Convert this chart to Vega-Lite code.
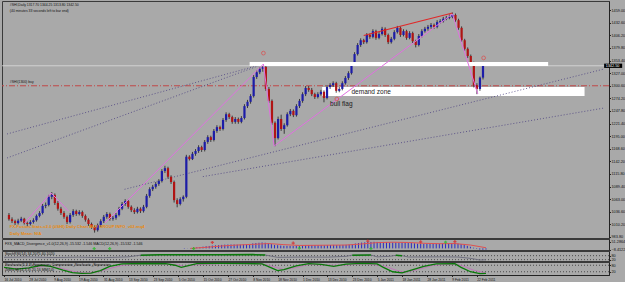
{
"$schema":"https://vega.github.io/schema/vega-lite/v6.json",
"padding":0,
"spacing":1,
"bounds":"flush",
"background":"#a9a9a9",
"config":{"view":{"stroke":"#3a3a3a","strokeWidth":1},"axis":{"labelFont":"Liberation Sans","labelFontSize":3.8,"labelColor":"#111111","tickColor":"#222222","domainColor":"#222222","tickSize":1.5,"labelPadding":0.5,"grid":false},"text":{"font":"Liberation Sans"}},
"datasets":{
"candles":[
{"i":0,"o":1030,"h":1034,"l":1018,"c":1021},{"i":1,"o":1021,"h":1025,"l":1013,"c":1017},{"i":2,"o":1017,"h":1020,"l":1009,"c":1013},{"i":3,"o":1013,"h":1022,"l":1010,"c":1018},{"i":4,"o":1018,"h":1026,"l":1015,"c":1022},{"i":5,"o":1022,"h":1024,"l":1010,"c":1013},{"i":6,"o":1013,"h":1016,"l":1006,"c":1011},{"i":7,"o":1011,"h":1019,"l":1008,"c":1015},{"i":8,"o":1015,"h":1023,"l":1012,"c":1019},{"i":9,"o":1019,"h":1031,"l":1016,"c":1028},
{"i":10,"o":1028,"h":1038,"l":1025,"c":1034},{"i":11,"o":1034,"h":1053,"l":1031,"c":1049},{"i":12,"o":1049,"h":1056,"l":1044,"c":1051},{"i":13,"o":1051,"h":1072,"l":1048,"c":1068},{"i":14,"o":1068,"h":1078,"l":1063,"c":1072},{"i":15,"o":1072,"h":1075,"l":1051,"c":1055},{"i":16,"o":1055,"h":1059,"l":1039,"c":1043},{"i":17,"o":1043,"h":1047,"l":1030,"c":1034},{"i":18,"o":1034,"h":1038,"l":1022,"c":1026},{"i":19,"o":1026,"h":1029,"l":1011,"c":1015},
{"i":20,"o":1015,"h":1034,"l":1012,"c":1030},{"i":21,"o":1030,"h":1042,"l":1026,"c":1038},{"i":22,"o":1038,"h":1041,"l":1028,"c":1032},{"i":23,"o":1032,"h":1040,"l":1029,"c":1036},{"i":24,"o":1036,"h":1039,"l":1024,"c":1028},{"i":25,"o":1028,"h":1031,"l":1016,"c":1020},{"i":26,"o":1020,"h":1023,"l":1007,"c":1011},{"i":27,"o":1011,"h":1014,"l":1001,"c":1005},{"i":28,"o":1005,"h":1008,"l":993,"c":998},{"i":29,"o":998,"h":1012,"l":995,"c":1009},
{"i":30,"o":1009,"h":1021,"l":1005,"c":1017},{"i":31,"o":1017,"h":1030,"l":1013,"c":1026},{"i":32,"o":1026,"h":1036,"l":1022,"c":1032},{"i":33,"o":1032,"h":1035,"l":1018,"c":1022},{"i":34,"o":1022,"h":1028,"l":1018,"c":1024},{"i":35,"o":1024,"h":1034,"l":1020,"c":1030},{"i":36,"o":1030,"h":1047,"l":1027,"c":1043},{"i":37,"o":1043,"h":1057,"l":1040,"c":1053},{"i":38,"o":1053,"h":1063,"l":1049,"c":1059},{"i":39,"o":1059,"h":1062,"l":1043,"c":1047},
{"i":40,"o":1047,"h":1050,"l":1036,"c":1040},{"i":41,"o":1040,"h":1044,"l":1032,"c":1036},{"i":42,"o":1036,"h":1047,"l":1033,"c":1043},{"i":43,"o":1043,"h":1046,"l":1034,"c":1038},{"i":44,"o":1038,"h":1051,"l":1035,"c":1047},{"i":45,"o":1047,"h":1074,"l":1044,"c":1070},{"i":46,"o":1070,"h":1088,"l":1066,"c":1084},{"i":47,"o":1084,"h":1093,"l":1080,"c":1089},{"i":48,"o":1089,"h":1099,"l":1085,"c":1095},{"i":49,"o":1095,"h":1105,"l":1091,"c":1101},
{"i":50,"o":1101,"h":1126,"l":1098,"c":1122},{"i":51,"o":1122,"h":1133,"l":1118,"c":1128},{"i":52,"o":1128,"h":1131,"l":1106,"c":1110},{"i":53,"o":1110,"h":1113,"l":1095,"c":1099},{"i":54,"o":1099,"h":1102,"l":1056,"c":1061},{"i":55,"o":1061,"h":1065,"l":1046,"c":1053},{"i":56,"o":1053,"h":1067,"l":1050,"c":1063},{"i":57,"o":1063,"h":1071,"l":1058,"c":1068},{"i":58,"o":1068,"h":1156,"l":1065,"c":1152},{"i":59,"o":1152,"h":1155,"l":1144,"c":1147},
{"i":60,"o":1147,"h":1162,"l":1145,"c":1158},{"i":61,"o":1158,"h":1168,"l":1154,"c":1164},{"i":62,"o":1164,"h":1176,"l":1160,"c":1172},{"i":63,"o":1172,"h":1175,"l":1162,"c":1166},{"i":64,"o":1166,"h":1187,"l":1163,"c":1183},{"i":65,"o":1183,"h":1197,"l":1179,"c":1193},{"i":66,"o":1193,"h":1196,"l":1183,"c":1187},{"i":67,"o":1187,"h":1210,"l":1184,"c":1206},{"i":68,"o":1206,"h":1218,"l":1202,"c":1214},{"i":69,"o":1214,"h":1217,"l":1206,"c":1210},
{"i":70,"o":1210,"h":1233,"l":1207,"c":1229},{"i":71,"o":1229,"h":1245,"l":1225,"c":1241},{"i":72,"o":1241,"h":1244,"l":1231,"c":1235},{"i":73,"o":1235,"h":1238,"l":1221,"c":1225},{"i":74,"o":1225,"h":1235,"l":1221,"c":1231},{"i":75,"o":1231,"h":1234,"l":1221,"c":1225},{"i":76,"o":1225,"h":1237,"l":1222,"c":1233},{"i":77,"o":1233,"h":1262,"l":1230,"c":1258},{"i":78,"o":1258,"h":1271,"l":1254,"c":1267},{"i":79,"o":1267,"h":1283,"l":1263,"c":1279},
{"i":80,"o":1279,"h":1323,"l":1276,"c":1319},{"i":81,"o":1319,"h":1333,"l":1315,"c":1329},{"i":82,"o":1329,"h":1340,"l":1325,"c":1336},{"i":83,"o":1336,"h":1347,"l":1330,"c":1340},{"i":84,"o":1340,"h":1344,"l":1290,"c":1294},{"i":85,"o":1294,"h":1298,"l":1265,"c":1269},{"i":86,"o":1269,"h":1272,"l":1219,"c":1223},{"i":87,"o":1223,"h":1226,"l":1174,"c":1191},{"i":88,"o":1191,"h":1236,"l":1188,"c":1231},{"i":89,"o":1231,"h":1240,"l":1206,"c":1210},
{"i":90,"o":1210,"h":1222,"l":1200,"c":1218},{"i":91,"o":1218,"h":1245,"l":1215,"c":1241},{"i":92,"o":1241,"h":1252,"l":1237,"c":1248},{"i":93,"o":1248,"h":1251,"l":1235,"c":1239},{"i":94,"o":1239,"h":1262,"l":1236,"c":1258},{"i":95,"o":1258,"h":1273,"l":1254,"c":1269},{"i":96,"o":1269,"h":1287,"l":1265,"c":1283},{"i":97,"o":1283,"h":1300,"l":1279,"c":1296},{"i":98,"o":1296,"h":1300,"l":1288,"c":1292},{"i":99,"o":1292,"h":1296,"l":1279,"c":1283},
{"i":100,"o":1283,"h":1286,"l":1273,"c":1277},{"i":101,"o":1277,"h":1287,"l":1274,"c":1283},{"i":102,"o":1283,"h":1292,"l":1280,"c":1288},{"i":103,"o":1288,"h":1291,"l":1266,"c":1275},{"i":104,"o":1275,"h":1302,"l":1272,"c":1298},{"i":105,"o":1298,"h":1306,"l":1294,"c":1302},{"i":106,"o":1302,"h":1310,"l":1298,"c":1306},{"i":107,"o":1306,"h":1309,"l":1286,"c":1290},{"i":108,"o":1290,"h":1298,"l":1287,"c":1294},{"i":109,"o":1294,"h":1310,"l":1291,"c":1306},
{"i":110,"o":1306,"h":1321,"l":1303,"c":1317},{"i":111,"o":1317,"h":1331,"l":1313,"c":1327},{"i":112,"o":1327,"h":1350,"l":1324,"c":1346},{"i":113,"o":1346,"h":1371,"l":1343,"c":1367},{"i":114,"o":1367,"h":1390,"l":1364,"c":1386},{"i":115,"o":1386,"h":1400,"l":1382,"c":1396},{"i":116,"o":1396,"h":1399,"l":1388,"c":1392},{"i":117,"o":1392,"h":1411,"l":1389,"c":1407},{"i":118,"o":1407,"h":1410,"l":1399,"c":1403},{"i":119,"o":1403,"h":1419,"l":1400,"c":1415},
{"i":120,"o":1415,"h":1418,"l":1397,"c":1401},{"i":121,"o":1401,"h":1413,"l":1398,"c":1409},{"i":122,"o":1409,"h":1424,"l":1406,"c":1420},{"i":123,"o":1420,"h":1423,"l":1403,"c":1407},{"i":124,"o":1407,"h":1410,"l":1388,"c":1392},{"i":125,"o":1392,"h":1403,"l":1389,"c":1399},{"i":126,"o":1399,"h":1417,"l":1396,"c":1413},{"i":127,"o":1413,"h":1426,"l":1410,"c":1422},{"i":128,"o":1422,"h":1425,"l":1403,"c":1407},{"i":129,"o":1407,"h":1419,"l":1404,"c":1415},
{"i":130,"o":1415,"h":1418,"l":1397,"c":1401},{"i":131,"o":1401,"h":1415,"l":1398,"c":1411},{"i":132,"o":1411,"h":1414,"l":1390,"c":1394},{"i":133,"o":1394,"h":1397,"l":1381,"c":1386},{"i":134,"o":1386,"h":1409,"l":1383,"c":1405},{"i":135,"o":1405,"h":1419,"l":1402,"c":1415},{"i":136,"o":1415,"h":1424,"l":1412,"c":1420},{"i":137,"o":1420,"h":1428,"l":1416,"c":1424},{"i":138,"o":1424,"h":1432,"l":1420,"c":1428},{"i":139,"o":1428,"h":1431,"l":1420,"c":1424},
{"i":140,"o":1424,"h":1438,"l":1421,"c":1434},{"i":141,"o":1434,"h":1440,"l":1431,"c":1436},{"i":142,"o":1436,"h":1445,"l":1433,"c":1441},{"i":143,"o":1441,"h":1447,"l":1438,"c":1443},{"i":144,"o":1443,"h":1450,"l":1440,"c":1445},{"i":145,"o":1445,"h":1454,"l":1442,"c":1449},{"i":146,"o":1449,"h":1452,"l":1434,"c":1438},{"i":147,"o":1438,"h":1441,"l":1418,"c":1422},{"i":148,"o":1422,"h":1425,"l":1392,"c":1396},{"i":149,"o":1396,"h":1399,"l":1374,"c":1378},
{"i":150,"o":1378,"h":1381,"l":1359,"c":1363},{"i":151,"o":1363,"h":1366,"l":1344,"c":1348},{"i":152,"o":1348,"h":1351,"l":1297,"c":1302},{"i":153,"o":1302,"h":1306,"l":1283,"c":1294},{"i":154,"o":1294,"h":1320,"l":1290,"c":1317.7},{"i":155,"o":1317.7,"h":1344.25,"l":1313.8,"c":1342.5}
],
"lines":[
{"id":"F1","k":"fan","i":-0.64,"p":1199.6},{"id":"F1","k":"fan","i":83.2,"p":1346.2},
{"id":"F2","k":"fan","i":-0.64,"p":1149.3},{"id":"F2","k":"fan","i":83.2,"p":1346.2},
{"id":"L1","k":"fan","i":37.8,"p":1083.7},{"id":"L1","k":"fan","i":194.6,"p":1335.7},
{"id":"L2","k":"fan","i":63.4,"p":1110.3},{"id":"L2","k":"fan","i":194.6,"p":1254.0},
{"id":"Z0","k":"zig","i":5.1,"p":1013},{"id":"Z0","k":"zig","i":13.8,"p":1076},{"id":"Z0","k":"zig","i":19.5,"p":1038},
{"id":"Z1","k":"zig","i":31.4,"p":1013},{"id":"Z1","k":"zig","i":83.2,"p":1346.2},
{"id":"Z2","k":"zig","i":83.2,"p":1346.2},{"id":"Z2","k":"zig","i":86.7,"p":1174.4},{"id":"Z2","k":"zig","i":145,"p":1451},{"id":"Z2","k":"zig","i":153.3,"p":1283.4},
{"id":"T1","k":"trend","i":116,"p":1406},{"id":"T1","k":"trend","i":145,"p":1453}
],
"zone":[{"i":102.4,"i2":188.2,"p":1298,"p2":1279.2}],
"hline":[{"i":78.7,"i2":176.3,"p":1346.2}],
"marks":[{"i":83.2,"p":1369},{"i":155.2,"p":1359},{"i":107.2,"p":1272.9}],
"notes":[
{"k":"hdr","i":0.3,"p":1469.8,"t":"#SHI,Daily  1317.70 1344.25 1313.80 1342.50"},
{"k":"hdr","i":0.3,"p":1457.3,"t":"(40 minutes 33 seconds left to bar end)"},
{"k":"hdr","i":0.3,"p":1308.5,"t":"#SHI(1300) buy"},
{"k":"big","i":112,"p":1287.5,"t":"demand zone"},
{"k":"big","i":105,"p":1262.4,"t":"bull flag"},
{"k":"orange","i":0.3,"p":1005,"t":"FX-Fusion-Stats-v2.0 (#SHI) Daily Chart BUY GROUP INFO_v02.mq4"},
{"k":"orange","i":0.3,"p":991,"t":"Daily Mean: N/A"}
],
"macd":[
{"i":58,"v":-3},{"i":59,"v":-1},{"i":60,"v":2},{"i":61,"v":5},{"i":62,"v":8},{"i":63,"v":10},{"i":64,"v":13},{"i":65,"v":16},{"i":66,"v":18},{"i":67,"v":21},{"i":68,"v":23},{"i":69,"v":24},
{"i":70,"v":26},{"i":71,"v":28},{"i":72,"v":29},{"i":73,"v":29},{"i":74,"v":29},{"i":75,"v":28},{"i":76,"v":28},{"i":77,"v":30},{"i":78,"v":31},{"i":79,"v":33},
{"i":80,"v":37},{"i":81,"v":40},{"i":82,"v":42},{"i":83,"v":44},{"i":84,"v":42},{"i":85,"v":38},{"i":86,"v":32},{"i":87,"v":25},{"i":88,"v":24},{"i":89,"v":21},
{"i":90,"v":19},{"i":91,"v":19},{"i":92,"v":19},{"i":93,"v":18},{"i":94,"v":19},{"i":95,"v":20},{"i":96,"v":22},{"i":97,"v":24},{"i":98,"v":25},{"i":99,"v":25},
{"i":100,"v":24},{"i":101,"v":24},{"i":102,"v":24},{"i":103,"v":23},{"i":104,"v":24},{"i":105,"v":25},{"i":106,"v":26},{"i":107,"v":25},{"i":108,"v":25},{"i":109,"v":26},
{"i":110,"v":27},{"i":111,"v":29},{"i":112,"v":32},{"i":113,"v":36},{"i":114,"v":40},{"i":115,"v":43},{"i":116,"v":45},{"i":117,"v":47},{"i":118,"v":48},{"i":119,"v":49},
{"i":120,"v":48},{"i":121,"v":48},{"i":122,"v":48},{"i":123,"v":47},{"i":124,"v":45},{"i":125,"v":44},{"i":126,"v":44},{"i":127,"v":44},{"i":128,"v":43},{"i":129,"v":42},
{"i":130,"v":41},{"i":131,"v":40},{"i":132,"v":38},{"i":133,"v":35},{"i":134,"v":34},{"i":135,"v":34},{"i":136,"v":34},{"i":137,"v":34},{"i":138,"v":35},{"i":139,"v":35},
{"i":140,"v":36},{"i":141,"v":36},{"i":142,"v":37},{"i":143,"v":37},{"i":144,"v":38},{"i":145,"v":38},{"i":146,"v":36},{"i":147,"v":32},{"i":148,"v":26},{"i":149,"v":19},
{"i":150,"v":12},{"i":151,"v":5},{"i":152,"v":-4},{"i":153,"v":-9},{"i":154,"v":-10},{"i":155,"v":-9}
],
"msig":[{"i":60,"v":0},{"i":65,"v":8},{"i":70,"v":18},{"i":75,"v":25},{"i":80,"v":30},{"i":85,"v":36},{"i":90,"v":28},{"i":95,"v":22},{"i":100,"v":23},{"i":105,"v":24},{"i":110,"v":25},{"i":115,"v":33},{"i":120,"v":43},{"i":125,"v":46},{"i":130,"v":44},{"i":135,"v":38},{"i":140,"v":35},{"i":145,"v":36},{"i":150,"v":25},{"i":155,"v":5}],
"mmk":[{"i":67,"v":44,"k":"r"},{"i":93,"v":40,"k":"r"},{"i":117,"v":55,"k":"r"},{"i":134,"v":48,"k":"r"},{"i":145,"v":50,"k":"r"},{"i":61,"v":-2,"k":"g"},{"i":29,"v":-2,"k":"g"},{"i":34,"v":-2,"k":"g"},{"i":95,"v":2,"k":"g"},{"i":118,"v":-2,"k":"g"},{"i":142,"v":46,"k":"g"}],
"st":[{"i":0,"v":55},{"i":8,"v":60},{"i":16,"v":52},{"i":24,"v":58},{"i":32,"v":50},{"i":40,"v":62},{"i":44,"v":88},{"i":50,"v":92},{"i":60,"v":95},{"i":70,"v":93},{"i":80,"v":96},{"i":84,"v":90},{"i":88,"v":55},{"i":96,"v":60},{"i":104,"v":58},{"i":110,"v":70},{"i":112,"v":88},{"i":118,"v":90},{"i":120,"v":62},{"i":124,"v":70},{"i":126,"v":85},{"i":128,"v":80},{"i":130,"v":60},{"i":140,"v":62},{"i":146,"v":60},{"i":150,"v":40},{"i":153,"v":15},{"i":155,"v":18}],
"stg":[{"s":"a","i":44,"v":88},{"s":"a","i":50,"v":92},{"s":"a","i":60,"v":95},{"s":"a","i":70,"v":93},{"s":"a","i":80,"v":96},{"s":"a","i":84,"v":90},{"s":"b","i":112,"v":88},{"s":"b","i":118,"v":90},{"s":"c","i":126,"v":85},{"s":"c","i":128,"v":80}],
"z3":[{"i":0,"v":60},{"i":4,"v":45},{"i":8,"v":55},{"i":12,"v":80},{"i":15,"v":70},{"i":19,"v":35},{"i":22,"v":12},{"i":25,"v":5},{"i":28,"v":8},{"i":31,"v":30},{"i":34,"v":70},{"i":38,"v":92},{"i":45,"v":96},{"i":52,"v":94},{"i":55,"v":80},{"i":57,"v":60},{"i":59,"v":75},{"i":62,"v":95},{"i":70,"v":97},{"i":78,"v":95},{"i":83,"v":93},{"i":86,"v":55},{"i":88,"v":30},{"i":90,"v":40},{"i":94,"v":75},{"i":98,"v":95},{"i":102,"v":88},{"i":106,"v":70},{"i":110,"v":90},{"i":115,"v":97},{"i":120,"v":93},{"i":122,"v":60},{"i":125,"v":20},{"i":128,"v":10},{"i":131,"v":35},{"i":135,"v":70},{"i":139,"v":92},{"i":145,"v":95},{"i":147,"v":60},{"i":150,"v":20},{"i":153,"v":3},{"i":155,"v":5}],
"z3s":[{"i":0,"v":55},{"i":5,"v":50},{"i":10,"v":60},{"i":14,"v":72},{"i":18,"v":55},{"i":22,"v":25},{"i":26,"v":8},{"i":30,"v":18},{"i":34,"v":50},{"i":38,"v":80},{"i":45,"v":93},{"i":55,"v":88},{"i":58,"v":70},{"i":62,"v":85},{"i":70,"v":95},{"i":83,"v":92},{"i":87,"v":65},{"i":90,"v":40},{"i":94,"v":60},{"i":98,"v":88},{"i":106,"v":80},{"i":110,"v":82},{"i":116,"v":93},{"i":122,"v":75},{"i":126,"v":35},{"i":129,"v":15},{"i":133,"v":40},{"i":138,"v":80},{"i":145,"v":92},{"i":148,"v":70},{"i":151,"v":35},{"i":155,"v":8}],
"subtext":[
{"k":"m","i":0.3,"v":30,"t":"FXS_MACD_Divergence_v1.0(12,26,9) -15.532 -1.546  MACD(12,26,9) -15.532 -1.546"},
{"k":"s","i":0.3,"v":105,"t":"StochRSI(14) 34.2075 40.1020"},
{"k":"z","i":0.3,"v":84,"t":"Stochastic(5,3,3) Expansion_Compression_Stochastic_Expansion"},
{"k":"z","i":0.3,"v":38,"t":"Zebra M(14,3,3) 20.16 MM(14)"}
]
},
"vconcat":[
{
"width":607,"height":237,
"encoding":{"x":{"field":"i","type":"quantitative","scale":{"domain":[-0.64,194.56],"nice":false,"zero":false},"axis":null}},
"layer":[
{"data":{"name":"zone"},"mark":{"type":"rect","color":"#ffffff"},"encoding":{"x2":{"field":"i2"},"y":{"field":"p","type":"quantitative","scale":{"domain":[981.7,1478.2],"nice":false,"zero":false},"axis":{"orient":"right","values":[983.8,1010.2,1036.6,1063,1089.4,1115.8,1142.2,1168.6,1195,1221.4,1247.8,1274.2,1300.6,1327,1353.4,1379.8,1406.2,1432.6,1459],"format":".2f","title":null,"labelOverlap":false}},"y2":{"field":"p2"}}},
{"data":{"values":[{"p":1300.6}]},"mark":{"type":"rule","color":"#c04848","strokeWidth":1,"strokeDash":[6,2,1,2]},"encoding":{"x":null,"y":{"field":"p","type":"quantitative","scale":{"domain":[981.7,1478.2],"nice":false,"zero":false},"axis":{"orient":"right","values":[983.8,1010.2,1036.6,1063,1089.4,1115.8,1142.2,1168.6,1195,1221.4,1247.8,1274.2,1300.6,1327,1353.4,1379.8,1406.2,1432.6,1459],"format":".2f","title":null,"labelOverlap":false}}}},
{"data":{"name":"lines"},"transform":[{"filter":"datum.k=='fan'"}],"mark":{"type":"line","color":"#4a3f80","strokeWidth":0.8,"strokeDash":[1,2]},"encoding":{"detail":{"field":"id"},"y":{"field":"p","type":"quantitative","scale":{"domain":[981.7,1478.2],"nice":false,"zero":false},"axis":{"orient":"right","values":[983.8,1010.2,1036.6,1063,1089.4,1115.8,1142.2,1168.6,1195,1221.4,1247.8,1274.2,1300.6,1327,1353.4,1379.8,1406.2,1432.6,1459],"format":".2f","title":null,"labelOverlap":false}}}},
{"data":{"values":[{"p":1342.5}]},"mark":{"type":"rule","color":"#dcdcdc","strokeWidth":0.8},"encoding":{"x":null,"y":{"field":"p","type":"quantitative","scale":{"domain":[981.7,1478.2],"nice":false,"zero":false},"axis":{"orient":"right","values":[983.8,1010.2,1036.6,1063,1089.4,1115.8,1142.2,1168.6,1195,1221.4,1247.8,1274.2,1300.6,1327,1353.4,1379.8,1406.2,1432.6,1459],"format":".2f","title":null,"labelOverlap":false}}}},
{"data":{"name":"candles"},"mark":{"type":"rule","color":"#1e1e1e","strokeWidth":0.8},"encoding":{"y":{"field":"l","type":"quantitative","scale":{"domain":[981.7,1478.2],"nice":false,"zero":false},"axis":{"orient":"right","values":[983.8,1010.2,1036.6,1063,1089.4,1115.8,1142.2,1168.6,1195,1221.4,1247.8,1274.2,1300.6,1327,1353.4,1379.8,1406.2,1432.6,1459],"format":".2f","title":null,"labelOverlap":false}},"y2":{"field":"h"}}},
{"data":{"name":"candles"},"mark":{"type":"bar","width":2.2},"encoding":{"y":{"field":"o","type":"quantitative","scale":{"domain":[981.7,1478.2],"nice":false,"zero":false},"axis":{"orient":"right","values":[983.8,1010.2,1036.6,1063,1089.4,1115.8,1142.2,1168.6,1195,1221.4,1247.8,1274.2,1300.6,1327,1353.4,1379.8,1406.2,1432.6,1459],"format":".2f","title":null,"labelOverlap":false}},"y2":{"field":"c"},"color":{"condition":{"test":"datum.c >= datum.o","value":"#1c1ca8"},"value":"#b01414"}}},
{"data":{"name":"hline"},"mark":{"type":"rule","color":"#ffffff","strokeWidth":4},"encoding":{"x2":{"field":"i2"},"y":{"field":"p","type":"quantitative","scale":{"domain":[981.7,1478.2],"nice":false,"zero":false},"axis":{"orient":"right","values":[983.8,1010.2,1036.6,1063,1089.4,1115.8,1142.2,1168.6,1195,1221.4,1247.8,1274.2,1300.6,1327,1353.4,1379.8,1406.2,1432.6,1459],"format":".2f","title":null,"labelOverlap":false}}}},
{"data":{"name":"lines"},"transform":[{"filter":"datum.k=='zig'"}],"mark":{"type":"line","color":"#e070e0","strokeWidth":1},"encoding":{"detail":{"field":"id"},"y":{"field":"p","type":"quantitative","scale":{"domain":[981.7,1478.2],"nice":false,"zero":false},"axis":{"orient":"right","values":[983.8,1010.2,1036.6,1063,1089.4,1115.8,1142.2,1168.6,1195,1221.4,1247.8,1274.2,1300.6,1327,1353.4,1379.8,1406.2,1432.6,1459],"format":".2f","title":null,"labelOverlap":false}}}},
{"data":{"name":"lines"},"transform":[{"filter":"datum.k=='trend'"}],"mark":{"type":"line","color":"#e02828","strokeWidth":1.2},"encoding":{"detail":{"field":"id"},"y":{"field":"p","type":"quantitative","scale":{"domain":[981.7,1478.2],"nice":false,"zero":false},"axis":{"orient":"right","values":[983.8,1010.2,1036.6,1063,1089.4,1115.8,1142.2,1168.6,1195,1221.4,1247.8,1274.2,1300.6,1327,1353.4,1379.8,1406.2,1432.6,1459],"format":".2f","title":null,"labelOverlap":false}}}},
{"data":{"name":"marks"},"mark":{"type":"point","shape":"circle","size":14,"color":"#e04848","filled":false,"strokeWidth":1},"encoding":{"y":{"field":"p","type":"quantitative","scale":{"domain":[981.7,1478.2],"nice":false,"zero":false},"axis":{"orient":"right","values":[983.8,1010.2,1036.6,1063,1089.4,1115.8,1142.2,1168.6,1195,1221.4,1247.8,1274.2,1300.6,1327,1353.4,1379.8,1406.2,1432.6,1459],"format":".2f","title":null,"labelOverlap":false}}}},
{"data":{"name":"notes"},"transform":[{"filter":"datum.k=='hdr'"}],"mark":{"type":"text","align":"left","baseline":"middle","fontSize":3.4,"color":"#111111"},"encoding":{"text":{"field":"t"},"y":{"field":"p","type":"quantitative","scale":{"domain":[981.7,1478.2],"nice":false,"zero":false},"axis":{"orient":"right","values":[983.8,1010.2,1036.6,1063,1089.4,1115.8,1142.2,1168.6,1195,1221.4,1247.8,1274.2,1300.6,1327,1353.4,1379.8,1406.2,1432.6,1459],"format":".2f","title":null,"labelOverlap":false}}}},
{"data":{"name":"notes"},"transform":[{"filter":"datum.k=='big'"}],"mark":{"type":"text","align":"left","baseline":"middle","fontSize":6.5,"color":"#1a1a1a"},"encoding":{"text":{"field":"t"},"y":{"field":"p","type":"quantitative","scale":{"domain":[981.7,1478.2],"nice":false,"zero":false},"axis":{"orient":"right","values":[983.8,1010.2,1036.6,1063,1089.4,1115.8,1142.2,1168.6,1195,1221.4,1247.8,1274.2,1300.6,1327,1353.4,1379.8,1406.2,1432.6,1459],"format":".2f","title":null,"labelOverlap":false}}}},
{"data":{"name":"notes"},"transform":[{"filter":"datum.k=='orange'"}],"mark":{"type":"text","align":"left","baseline":"middle","fontSize":4.2,"fontWeight":"bold","color":"#e88a10"},"encoding":{"text":{"field":"t"},"y":{"field":"p","type":"quantitative","scale":{"domain":[981.7,1478.2],"nice":false,"zero":false},"axis":{"orient":"right","values":[983.8,1010.2,1036.6,1063,1089.4,1115.8,1142.2,1168.6,1195,1221.4,1247.8,1274.2,1300.6,1327,1353.4,1379.8,1406.2,1432.6,1459],"format":".2f","title":null,"labelOverlap":false}}}},
{"data":{"values":[{"i":194.6,"i2":200.5,"p":1338,"p2":1347}]},"mark":{"type":"rect","color":"#000000"},"encoding":{"x2":{"field":"i2"},"y":{"field":"p","type":"quantitative","scale":{"domain":[981.7,1478.2],"nice":false,"zero":false},"axis":{"orient":"right","values":[983.8,1010.2,1036.6,1063,1089.4,1115.8,1142.2,1168.6,1195,1221.4,1247.8,1274.2,1300.6,1327,1353.4,1379.8,1406.2,1432.6,1459],"format":".2f","title":null,"labelOverlap":false}},"y2":{"field":"p2"}}},
{"data":{"values":[{"i":195.1,"p":1342.5,"t":"1342.50"}]},"mark":{"type":"text","align":"left","baseline":"middle","fontSize":3.8,"color":"#ffffff"},"encoding":{"text":{"field":"t"},"y":{"field":"p","type":"quantitative","scale":{"domain":[981.7,1478.2],"nice":false,"zero":false},"axis":{"orient":"right","values":[983.8,1010.2,1036.6,1063,1089.4,1115.8,1142.2,1168.6,1195,1221.4,1247.8,1274.2,1300.6,1327,1353.4,1379.8,1406.2,1432.6,1459],"format":".2f","title":null,"labelOverlap":false}}}}
]
},
{
"width":607,"height":11,
"encoding":{"x":{"field":"i","type":"quantitative","scale":{"domain":[-0.64,194.56],"nice":false,"zero":false},"axis":null}},
"layer":[
{"data":{"name":"macd"},"mark":{"type":"rule","color":"#2a2ac0","strokeWidth":1},"encoding":{"y":{"field":"v","type":"quantitative","scale":{"domain":[-12,70],"nice":false,"zero":false},"axis":{"orient":"right","values":[51.2864,-8.4122],"format":".4f","title":null,"labelOverlap":false}},"y2":{"datum":0}}},
{"data":{"name":"msig"},"mark":{"type":"line","color":"#e05050","strokeWidth":1},"encoding":{"y":{"field":"v","type":"quantitative","scale":{"domain":[-12,70],"nice":false,"zero":false},"axis":{"orient":"right","values":[51.2864,-8.4122],"format":".4f","title":null,"labelOverlap":false}}}},
{"data":{"name":"mmk"},"mark":{"type":"point","shape":"cross","size":10,"filled":true},"encoding":{"y":{"field":"v","type":"quantitative","scale":{"domain":[-12,70],"nice":false,"zero":false},"axis":{"orient":"right","values":[51.2864,-8.4122],"format":".4f","title":null,"labelOverlap":false}},"color":{"condition":{"test":"datum.k=='r'","value":"#e01818"},"value":"#18c018"}}},
{"data":{"name":"subtext"},"transform":[{"filter":"datum.k=='m'"}],"mark":{"type":"text","align":"left","baseline":"middle","fontSize":3.6,"color":"#111111"},"encoding":{"text":{"field":"t"},"y":{"field":"v","type":"quantitative","scale":{"domain":[-12,70],"nice":false,"zero":false},"axis":{"orient":"right","values":[51.2864,-8.4122],"format":".4f","title":null,"labelOverlap":false}}}}
]
},
{
"width":607,"height":10,
"encoding":{"x":{"field":"i","type":"quantitative","scale":{"domain":[-0.64,194.56],"nice":false,"zero":false},"axis":null}},
"layer":[
{"data":{"values":[{"v":80},{"v":20}]},"mark":{"type":"rule","color":"#333333","strokeWidth":0.8,"strokeDash":[1,2]},"encoding":{"x":null,"y":{"field":"v","type":"quantitative","scale":{"domain":[0,150],"nice":false,"zero":false},"axis":{"orient":"right","values":[80,20],"format":"d","title":null,"labelOverlap":false}}}},
{"data":{"name":"st"},"mark":{"type":"line","color":"#6a6a7a","strokeWidth":0.9},"encoding":{"y":{"field":"v","type":"quantitative","scale":{"domain":[0,150],"nice":false,"zero":false},"axis":{"orient":"right","values":[80,20],"format":"d","title":null,"labelOverlap":false}}}},
{"data":{"name":"stg"},"mark":{"type":"line","color":"#0a7a0a","strokeWidth":1.5},"encoding":{"detail":{"field":"s"},"y":{"field":"v","type":"quantitative","scale":{"domain":[0,150],"nice":false,"zero":false},"axis":{"orient":"right","values":[80,20],"format":"d","title":null,"labelOverlap":false}}}},
{"data":{"name":"subtext"},"transform":[{"filter":"datum.k=='s'"}],"mark":{"type":"text","align":"left","baseline":"middle","fontSize":3.6,"color":"#111111"},"encoding":{"text":{"field":"t"},"y":{"field":"v","type":"quantitative","scale":{"domain":[0,150],"nice":false,"zero":false},"axis":{"orient":"right","values":[80,20],"format":"d","title":null,"labelOverlap":false}}}}
]
},
{
"width":607,"height":13,
"encoding":{"x":{"field":"i","type":"quantitative","scale":{"domain":[-0.64,194.56],"nice":false,"zero":false},"axis":{"orient":"bottom","values":[0,8,16,24,32,40,48,56,64,72,80,88,96,104,112,120,128,136,144,152],"labelExpr":"['16 Jul 2010','28 Jul 2010','9 Aug 2010','19 Aug 2010','31 Aug 2010','13 Sep 2010','23 Sep 2010','5 Oct 2010','15 Oct 2010','27 Oct 2010','8 Nov 2010','18 Nov 2010','1 Dec 2010','13 Dec 2010','23 Dec 2010','5 Jan 2011','18 Jan 2011','28 Jan 2011','9 Feb 2011','22 Feb 2011'][round(datum.value/8)]","labelAlign":"left","labelFlush":false,"labelBound":false,"labelOverlap":false,"labelFontSize":3.3,"labelPadding":1,"title":null}}},
"layer":[
{"data":{"values":[{"v":80},{"v":20}]},"mark":{"type":"rule","color":"#333333","strokeWidth":0.8,"strokeDash":[1,2]},"encoding":{"x":null,"y":{"field":"v","type":"quantitative","scale":{"domain":[-10,110],"nice":false,"zero":false},"axis":{"orient":"right","values":[80,20],"format":"d","title":null,"labelOverlap":false}}}},
{"data":{"name":"z3s"},"mark":{"type":"line","color":"#c070b8","strokeWidth":0.9},"encoding":{"y":{"field":"v","type":"quantitative","scale":{"domain":[-10,110],"nice":false,"zero":false},"axis":{"orient":"right","values":[80,20],"format":"d","title":null,"labelOverlap":false}}}},
{"data":{"name":"z3"},"mark":{"type":"line","color":"#0a7a0a","strokeWidth":1.3},"encoding":{"y":{"field":"v","type":"quantitative","scale":{"domain":[-10,110],"nice":false,"zero":false},"axis":{"orient":"right","values":[80,20],"format":"d","title":null,"labelOverlap":false}}}},
{"data":{"name":"subtext"},"transform":[{"filter":"datum.k=='z'"}],"mark":{"type":"text","align":"left","baseline":"middle","fontSize":3.6,"color":"#111111"},"encoding":{"text":{"field":"t"},"y":{"field":"v","type":"quantitative","scale":{"domain":[-10,110],"nice":false,"zero":false},"axis":{"orient":"right","values":[80,20],"format":"d","title":null,"labelOverlap":false}}}}
]
}
]
}
